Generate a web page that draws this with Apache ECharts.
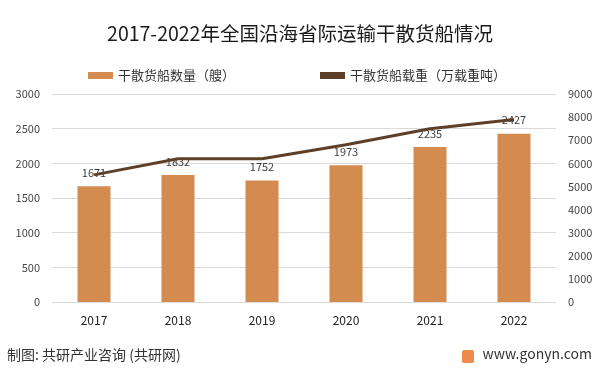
<!DOCTYPE html>
<html><head><meta charset="utf-8">
<script src="https://cdn.jsdelivr.net/npm/echarts@6/dist/echarts.min.js"></script>
<style>html,body{margin:0;padding:0;background:#fff}#c{width:600px;height:373px}</style>
</head><body><div id="c"></div>
<script>
const categories = ['2017','2018','2019','2020','2021','2022'];
const shipCount = [1671, 1832, 1752, 1973, 2235, 2427];
const shipTonnage = [5500, 6200, 6200, 6800, 7500, 7900];
const leftTicks = [0, 500, 1000, 1500, 2000, 2500, 3000];
const rightTicks = [0, 1000, 2000, 3000, 4000, 5000, 6000, 7000, 8000, 9000];

const font = '"Noto Sans CJK SC", "Noto Sans", sans-serif';
const chart = echarts.init(document.getElementById('c'));
chart.setOption({
  animation: false,
  textStyle: { fontFamily: font },
  title: {
    text: '2017-2022年全国沿海省际运输干散货船情况',
    left: 'center', top: 19,
    textStyle: { fontSize: 19.5, fontWeight: 'normal', color: '#1a1a1a', fontFamily: font }
  },
  legend: {
    top: 64, left: 83, itemGap: 85,
    itemWidth: 25, itemHeight: 7,
    textStyle: { fontSize: 13, color: '#333' },
    data: [
      { name: '干散货船数量（艘）', icon: 'rect' },
      { name: '干散货船载重（万载重吨）', icon: 'rect' }
    ]
  },
  grid: { left: 52, right: 44, top: 94, bottom: 71 },
  xAxis: {
    type: 'category', data: categories,
    axisLine: { lineStyle: { color: '#d9d9d9' } },
    axisTick: { show: false },
    axisLabel: { color: '#222', fontSize: 12, margin: 12 }
  },
  yAxis: [
    {
      type: 'value', min: 0, max: 3000, interval: 500,
      axisLabel: { color: '#444', fontSize: 11, margin: 12,
        formatter: v => leftTicks.includes(v) ? String(v) : '' },
      axisLine: { show: false }, axisTick: { show: false },
      splitLine: { lineStyle: { color: '#d9d9d9' } }
    },
    {
      type: 'value', min: 0, max: 9000, interval: 1000,
      axisLabel: { color: '#444', fontSize: 11, margin: 12,
        formatter: v => rightTicks.includes(v) ? String(v) : '' },
      axisLine: { show: false }, axisTick: { show: false },
      splitLine: { show: false }
    }
  ],
  series: [
    {
      name: '干散货船数量（艘）', type: 'bar', data: shipCount,
      barWidth: 33,
      itemStyle: { color: '#D38B4F' },
      label: { show: true, position: 'top', distance: 8, color: '#404040', fontSize: 11 }
    },
    {
      name: '干散货船载重（万载重吨）', type: 'line', yAxisIndex: 1, data: shipTonnage,
      symbol: 'none',
      lineStyle: { color: '#5E4029', width: 3 },
      itemStyle: { color: '#5E4029' }
    }
  ],
  graphic: [
    { type: 'text', left: 7, top: 348,
      style: { text: '制图: 共研产业咨询 (共研网)', fill: '#333', fontSize: 14, fontFamily: font } },
    { type: 'rect', left: 462, top: 350, shape: { width: 12, height: 13, r: 2 },
      style: { fill: '#F08A4B' } },
    { type: 'text', right: 8, top: 347,
      style: { text: 'www.gonyn.com', fill: '#333', fontSize: 14, fontFamily: font } }
  ]
});
</script></body></html>
